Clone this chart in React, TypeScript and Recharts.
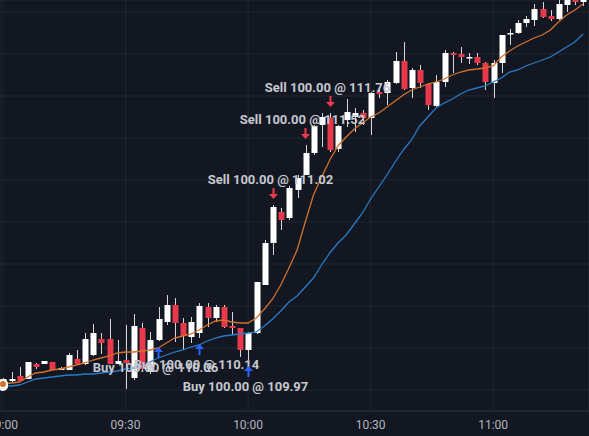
import React from "react";
import { ComposedChart, Bar, Line, Scatter, XAxis, YAxis, CartesianGrid } from "recharts";

// 2-minute candles, 09:00 .. 11:22
const TIME_TICKS = [0, 15, 30, 45, 60];
const TIME_LABELS = ["09:00", "09:30", "10:00", "10:30", "11:00"];
const PRICE_TICKS = [
  109.0, 109.21, 109.42, 109.63, 109.84, 110.05, 110.26, 110.47, 110.68, 110.89,
  111.1, 111.31, 111.52, 111.73, 111.94, 112.15, 112.36, 112.57, 112.78, 112.99,
];

const OPEN = [
  109.27, 109.3, 109.35, 109.32, 109.47, 109.47, 109.49, 109.41, 109.41, 109.52,
  109.47, 109.56, 109.72, 109.72, 109.47, 109.51, 109.33, 109.83, 109.39, 109.71,
  109.89, 110.06, 109.88, 109.74, 109.78, 110.04, 109.93, 110.04, 109.85, 109.83,
  109.61, 109.78, 110.26, 110.68, 110.99, 110.93, 111.21, 111.36, 111.58, 111.86,
  111.93, 111.62, 111.91, 111.94, 111.98, 111.93, 112.19, 112.18, 112.28, 112.5,
  112.23, 112.41, 112.27, 112.05, 112.29, 112.58, 112.57, 112.54, 112.54, 112.48,
  112.28, 112.48, 112.77, 112.78, 112.88, 112.91, 113.02, 112.95, 112.92, 113.06,
  113.13, 113.09,
];
const HIGH = [
  109.33, 109.39, 109.44, 109.49, 109.48, 109.5, 109.49, 109.44, 109.58, 109.61,
  109.78, 109.87, 109.78, 109.92, 109.71, 109.86, 109.97, 109.88, 109.79, 110.04,
  110.16, 110.13, 109.93, 109.94, 110.08, 110.08, 110.06, 110.06, 109.99, 109.83,
  109.79, 110.29, 110.71, 111.06, 111.03, 111.25, 111.36, 111.66, 111.86, 111.98,
  111.98, 111.86, 112.12, 112.03, 112.01, 112.19, 112.24, 112.31, 112.59, 112.69,
  112.43, 112.46, 112.28, 112.36, 112.61, 112.59, 112.64, 112.58, 112.58, 112.49,
  112.51, 112.76, 112.82, 112.91, 112.95, 113.07, 113.09, 113.01, 113.13, 113.16,
  113.19, 113.21,
];
const LOW = [
  109.24, 109.29, 109.3, 109.32, 109.42, 109.47, 109.41, 109.41, 109.41, 109.46,
  109.46, 109.55, 109.57, 109.47, 109.47, 109.22, 109.31, 109.41, 109.37, 109.7,
  109.86, 109.69, 109.61, 109.68, 109.73, 109.84, 109.89, 109.83, 109.76, 109.54,
  109.51, 109.77, 110.26, 110.56, 110.81, 110.91, 111.13, 111.36, 111.56, 111.64,
  111.59, 111.59, 111.84, 111.79, 111.86, 111.76, 112.13, 112.06, 112.27, 112.21,
  112.13, 112.23, 112.01, 112.04, 112.24, 112.38, 112.48, 112.47, 112.46, 112.21,
  112.13, 112.38, 112.66, 112.77, 112.84, 112.85, 112.93, 112.9, 112.91, 112.99,
  113.06, 113.05,
];
const CLOSE = [
  109.32, 109.32, 109.3, 109.49, 109.44, 109.5, 109.41, 109.43, 109.56, 109.47,
  109.72, 109.78, 109.68, 109.47, 109.5, 109.48, 109.85, 109.42, 109.71, 109.92,
  110.06, 109.88, 109.75, 109.89, 110.05, 109.93, 110.04, 109.84, 109.83, 109.61,
  109.78, 110.29, 110.68, 111.04, 110.91, 111.23, 111.33, 111.58, 111.85, 111.94,
  111.61, 111.85, 111.99, 111.98, 111.93, 112.18, 112.17, 112.29, 112.5, 112.22,
  112.41, 112.28, 112.06, 112.29, 112.58, 112.56, 112.54, 112.54, 112.48, 112.29,
  112.48, 112.76, 112.78, 112.88, 112.92, 113.02, 112.94, 112.92, 113.07, 113.13,
  113.09, 113.16,
];
const MA_FAST = [
  109.27, 109.28, 109.29, 109.34, 109.38, 109.39, 109.41, 109.42, 109.44, 109.46,
  109.48, 109.51, 109.53, 109.55, 109.58, 109.59, 109.59, 109.6, 109.61, 109.63,
  109.68, 109.73, 109.75, 109.77, 109.81, 109.86, 109.9, 109.91, 109.89, 109.88,
  109.88, 109.93, 110.02, 110.12, 110.26, 110.43, 110.61, 110.89, 111.16, 111.34,
  111.51, 111.65, 111.74, 111.82, 111.88, 111.94, 111.98, 112.04, 112.1, 112.16,
  112.21, 112.24, 112.27, 112.29, 112.32, 112.36, 112.39, 112.41, 112.42, 112.43,
  112.45, 112.54, 112.6, 112.65, 112.69, 112.73, 112.76, 112.81, 112.89, 112.96,
  113.01, 113.07,
];
const MA_SLOW = [
  109.25, 109.25, 109.26, 109.29, 109.32, 109.33, 109.34, 109.35, 109.36, 109.36,
  109.37, 109.37, 109.38, 109.39, 109.4, 109.42, 109.43, 109.45, 109.49, 109.53,
  109.56, 109.59, 109.61, 109.64, 109.66, 109.7, 109.73, 109.75, 109.76, 109.77,
  109.78, 109.79, 109.85, 109.92, 110.0, 110.09, 110.15, 110.24, 110.33, 110.46,
  110.58, 110.68, 110.76, 110.87, 110.98, 111.12, 111.24, 111.36, 111.49, 111.61,
  111.71, 111.85, 111.94, 112.03, 112.08, 112.12, 112.17, 112.21, 112.23, 112.25,
  112.29, 112.33, 112.39, 112.41, 112.45, 112.48, 112.51, 112.54, 112.59, 112.64,
  112.69, 112.77,
];

const TRADES = [
  { i: 19, side: "buy", text: "Buy 100.00 @ 110.06" },
  { i: 24, side: "buy", text: "Buy 100.00 @ 110.14" },
  { i: 30, side: "buy", text: "Buy 100.00 @ 109.97" },
  { i: 33, side: "sell", text: "Sell 100.00 @ 111.02" },
  { i: 37, side: "sell", text: "Sell 100.00 @ 111.52" },
  { i: 40, side: "sell", text: "Sell 100.00 @ 111.76" },
];

const BG = "#131722";
const GRID = "#222631";
const UP = "#ffffff";
const DOWN = "#e8394a";
const WICK = "#d6d6d6";
const BUY = "#2962ff";
const SELL = "#ef3a4a";
const TEXT = "#c5c8cf";

const candles = OPEN.map((o, i) => ({
  i,
  o,
  h: HIGH[i],
  l: LOW[i],
  c: CLOSE[i],
  fast: MA_FAST[i],
  slow: MA_SLOW[i],
}));

const markers = TRADES.map((t) => ({ ...t, y: t.side === "buy" ? LOW[t.i] : HIGH[t.i] }));

function Candle(props: any) {
  const { x, y, width, height, payload } = props;
  if (!payload) return null;
  const { o, h, l, c } = payload;
  const top = Math.min(y, y + height);
  const bot = Math.max(y, y + height);
  const span = h - l || 1;
  const py = (p: number) => top + ((h - p) / span) * (bot - top);
  const cx = Math.round(x + width / 2);
  const bTop = py(Math.max(o, c));
  const bBot = py(Math.min(o, c));
  return (
    <g>
      <line x1={cx + 0.5} x2={cx + 0.5} y1={top} y2={bot} stroke={WICK} strokeWidth={1} />
      <rect x={cx - 2.5} y={bTop} width={6} height={Math.max(1.5, bBot - bTop)} fill={c >= o ? UP : DOWN} />
    </g>
  );
}

function Marker(props: any) {
  const { cx, cy, payload } = props;
  if (!payload) return null;
  const x = Math.round(cx) + 0.5;
  const label = (
    <text
      x={x - 3}
      y={payload.side === "buy" ? cy + 26 : cy - 26}
      textAnchor="middle"
      dominantBaseline="central"
      fill={TEXT}
      fontSize={13}
      fontWeight={700}
      fontFamily="Roboto, sans-serif"
    >
      {payload.text}
    </text>
  );
  if (payload.side === "buy") {
    const t = cy + 6;
    return (
      <g>
        <path
          d={`M${x} ${t} L${x + 4.5} ${t + 5} L${x + 1} ${t + 5} L${x + 1} ${t + 11} L${x - 1} ${t + 11} L${x - 1} ${t + 5} L${x - 4.5} ${t + 5} Z`}
          fill={BUY}
        />
        {label}
      </g>
    );
  }
  const b = cy - 6;
  return (
    <g>
      <path
        d={`M${x} ${b} L${x + 4.5} ${b - 5} L${x + 1} ${b - 5} L${x + 1} ${b - 11} L${x - 1} ${b - 11} L${x - 1} ${b - 5} L${x - 4.5} ${b - 5} Z`}
        fill={SELL}
      />
      {label}
    </g>
  );
}

export default function App() {
  return (
    <div
      style={{
        position: "absolute",
        left: 0,
        top: 0,
        width: 589,
        height: 436,
        overflow: "hidden",
        background: BG,
      }}
    >
      <ComposedChart width={589} height={436} data={candles} margin={{ top: 0, right: 0, bottom: 0, left: 0 }}>
        <CartesianGrid stroke={GRID} strokeWidth={1} />
        <XAxis
          dataKey="i"
          type="number"
          domain={[-0.367, 71.73]}
          allowDataOverflow
          ticks={TIME_TICKS}
          interval={0}
          tickFormatter={(v: number) => TIME_LABELS[TIME_TICKS.indexOf(v)] ?? ""}
          tick={{ fill: "#b2b5be", fontSize: 12, fontFamily: "Roboto, sans-serif" }}
          tickLine={false}
          tickMargin={3}
          axisLine={{ stroke: "#2a2e39" }}
          height={25}
        />
        <YAxis hide domain={[109.0, 113.11]} ticks={PRICE_TICKS} allowDataOverflow />
        <Line dataKey="slow" type="linear" stroke="#2a7bc6" strokeWidth={1.3} dot={false} isAnimationActive={false} />
        <Line dataKey="fast" type="linear" stroke="#d2722b" strokeWidth={1.3} dot={false} isAnimationActive={false} />
        <Bar dataKey={(d: any) => [d.l, d.h]} barSize={7} shape={<Candle />} isAnimationActive={false} />
        <Scatter data={markers} dataKey="y" shape={<Marker />} isAnimationActive={false} />
      </ComposedChart>
    </div>
  );
}
